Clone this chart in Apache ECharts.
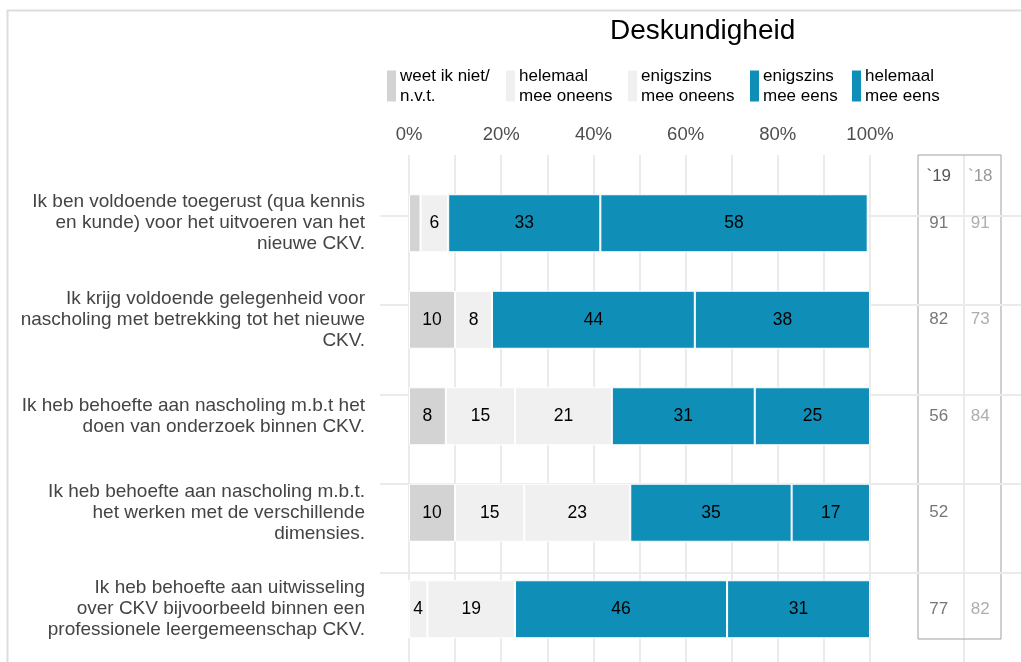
<!DOCTYPE html>
<html>
<head>
<meta charset="utf-8">
<script src="https://cdn.jsdelivr.net/npm/echarts@6/dist/echarts.min.js"></script>
<style>
  html, body { margin: 0; padding: 0; background: #fff; }
  #main { width: 1021px; height: 662px; }
</style>
</head>
<body>
<div id="main"></div>
<script>
// stellingen (van boven naar beneden)
const statements = [
  'Ik ben voldoende toegerust (qua kennis\nen kunde) voor het uitvoeren van het\nnieuwe CKV.',
  'Ik krijg voldoende gelegenheid voor\nnascholing met betrekking tot het nieuwe\nCKV.',
  'Ik heb behoefte aan nascholing m.b.t het\ndoen van onderzoek binnen CKV.',
  'Ik heb behoefte aan nascholing m.b.t.\nhet werken met de verschillende\ndimensies.',
  'Ik heb behoefte aan uitwisseling\nover CKV bijvoorbeeld binnen een\nprofessionele leergemeenschap CKV.'
];

// antwoordcategorieën
const answerNames = [
  'weet ik niet/\nn.v.t.',
  'helemaal\nmee oneens',
  'enigszins\nmee oneens',
  'enigszins\nmee eens',
  'helemaal\nmee eens'
];
const answerColors = ['#d3d3d3', '#f0f0f0', '#f0f0f0', '#0f8fb8', '#0f8fb8'];

// percentages per categorie
const weetNiet        = [2.5, 10, 8, 10, 0];
const helemaalOneens  = [6, 8, 15, 15, 4];
const enigszinsOneens = [0, 0, 21, 23, 19];
const enigszinsEens   = [33, 44, 31, 35, 46];
const helemaalEens    = [58, 38, 25, 17, 31];
const answerValues = [weetNiet, helemaalOneens, enigszinsOneens, enigszinsEens, helemaalEens];

// % (enigszins + helemaal) mee eens per jaar
const yearLabels = ['`19', '`18'];
const score19 = [91, 82, 56, 52, 77];
const score18 = [91, 73, 84, null, 82];

const legendLefts = [385, 504, 626, 748, 850];

const chart = echarts.init(document.getElementById('main'));

const barSeries = answerNames.map((name, i) => ({
  name: name,
  type: 'bar',
  stack: 'totaal',
  xAxisIndex: 0,
  yAxisIndex: 0,
  barWidth: 58,
  data: answerValues[i],
  itemStyle: { color: answerColors[i], borderColor: '#ffffff', borderWidth: 1 },
  label: {
    show: true,
    position: 'inside',
    color: '#000',
    fontSize: 17.5,
    fontFamily: 'Liberation Sans',
    formatter: p => (p.value >= 3 ? Math.round(p.value) : '')
  },
  emphasis: { disabled: true }
}));

const option = {
  backgroundColor: '#ffffff',
  animation: false,
  textStyle: { fontFamily: 'Liberation Sans' },
  title: {
    text: 'Deskundigheid',
    left: 610,
    top: 17,
    padding: 0,
    textStyle: { color: '#000', fontSize: 28, fontWeight: 'normal', fontFamily: 'Liberation Sans' }
  },
  legend: answerNames.map((name, i) => ({
    data: [name],
    left: legendLefts[i],
    top: 66,
    padding: 0,
    icon: 'rect',
    itemWidth: 11,
    itemHeight: 33,
    itemGap: 0,
    selectedMode: false,
    textStyle: { color: '#000', fontSize: 17, lineHeight: 20, padding: [0, 0, 0, -2] }
  })),
  grid: [
    // balken
    { left: 409, width: 461, top: 175, height: 482.5 },
    // verticale rasterlijnen
    { left: 409, width: 461, top: 155, bottom: 0 },
    // horizontale rasterlijnen
    { left: 380, right: 0, top: 126.5, height: 579 },
    // kader met jaarscores
    { left: 918, width: 83, top: 155, height: 484, show: true, borderColor: '#a0a0a0', borderWidth: 1, backgroundColor: 'transparent' }
  ],
  xAxis: [
    {
      gridIndex: 0, type: 'value', position: 'top', min: 0, max: 100, interval: 20,
      axisLine: { show: false }, axisTick: { show: false }, splitLine: { show: false },
      axisLabel: { formatter: '{value}%', color: '#4d4d4d', fontSize: 18.5, margin: 31 }
    },
    {
      gridIndex: 1, type: 'value', min: 0, max: 100, interval: 10,
      axisLine: { show: false }, axisTick: { show: false }, axisLabel: { show: false },
      splitLine: { show: true, lineStyle: { color: '#ebebeb', width: 2 } }
    },
    {
      gridIndex: 2, type: 'value', min: 0, max: 1,
      axisLine: { show: false }, axisTick: { show: false }, axisLabel: { show: false }, splitLine: { show: false }
    },
    {
      gridIndex: 3, type: 'category', data: yearLabels, position: 'top',
      axisLine: { show: false }, axisTick: { show: false }, splitLine: { show: false },
      axisLabel: {
        inside: true, margin: 13, fontSize: 17,
        color: (v, i) => (i === 0 ? '#555555' : '#999999'),
        verticalAlign: 'top'
      }
    }
  ],
  yAxis: [
    {
      gridIndex: 0, type: 'category', data: statements, inverse: true,
      axisLine: { show: false }, axisTick: { show: false }, splitLine: { show: false },
      axisLabel: { color: '#444444', fontSize: 19, lineHeight: 21, align: 'right', margin: 44 }
    },
    {
      gridIndex: 1, type: 'value', min: 0, max: 1,
      axisLine: { show: false }, axisTick: { show: false }, axisLabel: { show: false }, splitLine: { show: false }
    },
    {
      gridIndex: 2, type: 'value', inverse: true, min: -1, max: 5, interval: 1,
      axisLine: { show: false }, axisTick: { show: false }, axisLabel: { show: false },
      splitLine: { show: true, showMinLine: false, showMaxLine: false, lineStyle: { color: '#ebebeb', width: 2 } }
    },
    {
      gridIndex: 3, type: 'value', inverse: true, min: -0.7047, max: 4.311,
      axisLine: { show: false }, axisTick: { show: false }, axisLabel: { show: false }, splitLine: { show: false }
    }
  ],
  graphic: [
    {
      type: 'polyline', silent: true, z: -1,
      shape: { points: [[7.5, 662], [7.5, 10.5], [1021, 10.5]] },
      style: { stroke: '#dddddd', lineWidth: 2, fill: null }
    },
    {
      type: 'line', silent: true, z: -1,
      shape: { x1: 964, y1: 155, x2: 964, y2: 662 },
      style: { stroke: '#ebebeb', lineWidth: 2 }
    }
  ],
  series: barSeries.concat([
    {
      name: yearLabels[0], type: 'scatter', xAxisIndex: 3, yAxisIndex: 3,
      symbolSize: 0, silent: true,
      data: score19.map((v, i) => [0, i, v]),
      label: { show: true, position: 'inside', formatter: p => p.value[2], color: '#555555', fontSize: 17 }
    },
    {
      name: yearLabels[1], type: 'scatter', xAxisIndex: 3, yAxisIndex: 3,
      symbolSize: 0, silent: true,
      data: score18.map((v, i) => (v == null ? null : [1, i, v])).filter(d => d),
      label: { show: true, position: 'inside', formatter: p => p.value[2], color: '#999999', fontSize: 17 }
    }
  ])
};

chart.setOption(option);
</script>
</body>
</html>
